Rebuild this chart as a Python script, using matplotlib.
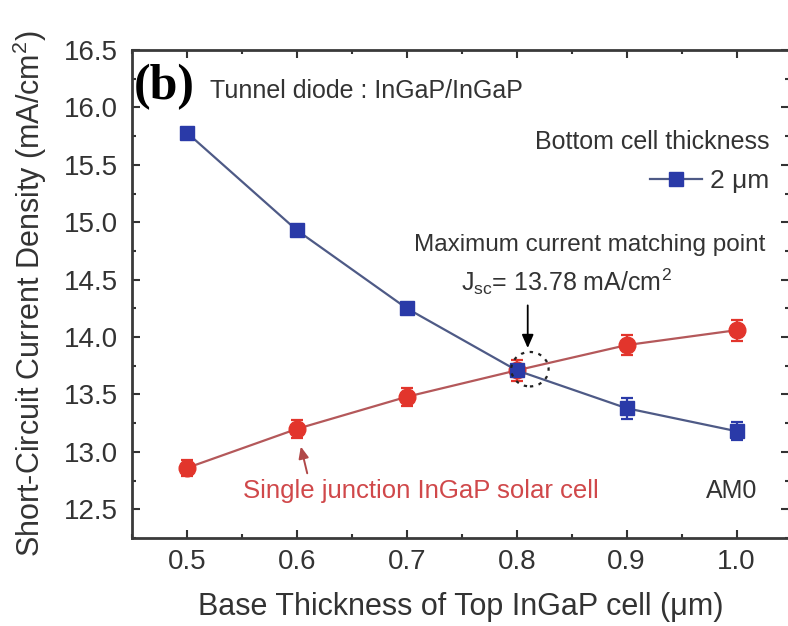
import matplotlib
matplotlib.use("Agg")
import matplotlib.pyplot as plt
from matplotlib.patches import Ellipse
from matplotlib.lines import Line2D
from matplotlib.ticker import MultipleLocator

plt.rcParams['font.family'] = ['Liberation Sans', 'DejaVu Sans']
plt.rcParams['mathtext.default'] = 'regular'

thickness = [0.5, 0.6, 0.7, 0.8, 0.9, 1.0]
jsc_tandem = [15.78, 14.93, 14.25, 13.71, 13.38, 13.18]
err_tandem = [0.04, 0.04, 0.04, 0.05, 0.09, 0.08]
jsc_single = [12.86, 13.20, 13.48, 13.71, 13.93, 14.06]
err_single = [0.07, 0.08, 0.08, 0.09, 0.09, 0.09]

txt = '#333333'
blue = '#2a3aa8'
blue_line = '#4e5a86'
red = '#e2352c'
red_line = '#b4585a'

fig = plt.figure(figsize=(7.88, 6.26), dpi=100)
ax = fig.add_axes([0.1675, 0.1406, 0.8335, 0.7795])

ax.errorbar(thickness, jsc_single, yerr=err_single, color=red_line, lw=1.6,
            marker='o', ms=12, mfc=red, mec=red, ecolor=red, elinewidth=1.6,
            capsize=4, capthick=1.6, zorder=3)
ax.errorbar(thickness, jsc_tandem, yerr=err_tandem, color=blue_line, lw=1.6,
            marker='s', ms=10.5, mfc=blue, mec=blue, ecolor=blue, elinewidth=1.6,
            capsize=4, capthick=1.6, zorder=4)

ax.set_xlim(0.45, 1.0475)
ax.set_ylim(12.25, 16.5)
ax.xaxis.set_major_locator(MultipleLocator(0.1))
ax.xaxis.set_minor_locator(MultipleLocator(0.05))
ax.yaxis.set_major_locator(MultipleLocator(0.5))
ax.yaxis.set_minor_locator(MultipleLocator(0.25))
ax.xaxis.set_major_formatter(plt.FuncFormatter(lambda v, p: f'{v:.1f}'))
ax.yaxis.set_major_formatter(plt.FuncFormatter(lambda v, p: f'{v:.1f}'))
ax.tick_params(which='both', direction='in', top=True, right=True,
               colors=txt, labelsize=20, width=1.5)
ax.tick_params(axis='y', which='major', length=6, pad=10)
ax.tick_params(axis='x', which='major', length=6, pad=8)
ax.tick_params(which='minor', length=3)
for s in ax.spines.values():
    s.set_linewidth(2)
    s.set_color('#3a3a3a')

ax.set_xlabel('Base Thickness of Top InGaP cell (μm)', fontsize=22, color=txt, labelpad=12)
ax.set_ylabel('Short-Circuit Current Density (mA/cm$^2$)', fontsize=22, color=txt, labelpad=11)

ax.text(0.4515, 16.18, '(b)', family='Liberation Serif', fontweight='bold',
        fontsize=36, color='black', va='center', ha='left')
ax.text(0.521, 16.14, 'Tunnel diode : InGaP/InGaP', fontsize=18, color=txt,
        va='center', ha='left')
ax.text(1.03, 15.7, 'Bottom cell thickness', fontsize=18, color=txt,
        va='center', ha='right')

proxy = Line2D([], [], color=blue_line, lw=1.6, marker='s', ms=10.5,
               mfc=blue, mec=blue)
ax.legend(handles=[proxy], labels=['2 μm'], loc='center right',
          bbox_to_anchor=(1.03, 15.36), bbox_transform=ax.transData,
          frameon=False, fontsize=19, handlelength=2.0, handletextpad=0.3,
          borderpad=0, borderaxespad=0, labelcolor=txt)

ax.text(0.866, 14.8, 'Maximum current matching point', fontsize=17.5, color=txt,
        va='center', ha='center')
ax.text(0.845, 14.48, 'J$_{sc}$= 13.78 mA/cm$^2$', fontsize=18, color=txt,
        va='center', ha='center')
ax.annotate('', xy=(0.81, 13.88), xytext=(0.81, 14.3),
            arrowprops=dict(arrowstyle='-|>,head_length=0.8,head_width=0.35',
                            color='black', lw=1.3))
ax.add_patch(Ellipse((0.812, 13.72), 0.034, 0.3, fill=False, ls=(0, (1.5, 2.5)),
                     lw=1.6, ec='#222222', zorder=5))

ax.annotate('', xy=(0.603, 13.07), xytext=(0.61, 12.79),
            arrowprops=dict(arrowstyle='-|>,head_length=0.7,head_width=0.3',
                            color='#b04848', lw=1.4))
ax.text(0.713, 12.66, 'Single junction InGaP solar cell', fontsize=18.5,
        color='#d0484a', va='center', ha='center')
ax.text(1.019, 12.66, 'AM0', fontsize=18, color=txt, va='center', ha='right')

fig.savefig('out.png', dpi=100)
